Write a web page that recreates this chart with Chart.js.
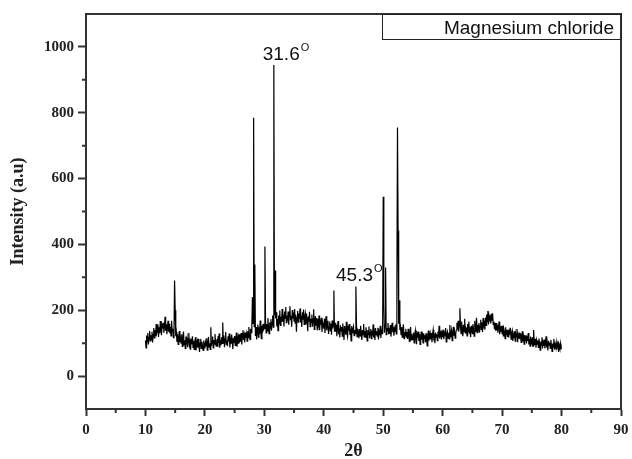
<!DOCTYPE html>
<html><head><meta charset="utf-8">
<script src="https://cdn.jsdelivr.net/npm/chart.js@4.4.1/dist/chart.umd.min.js"></script>
<style>html,body{margin:0;padding:0;background:#fff;}canvas{display:block;}</style>
</head><body>
<canvas id="c" width="632" height="459"></canvas>
<script>
const seriesName = 'Magnesium chloride';
const angleStart = 10;
const angleStep = 0.1;
const intensity = [
108,86,123,104,131,96,118,137,107,124,
111,135,102,126,146,116,140,122,158,130,
137,157,119,148,130,167,140,124,154,145,
162,132,151,180,138,157,127,148,168,135,
159,130,149,122,168,135,144,117,125,290,
200,121,133,104,126,96,118,137,103,115,
100,127,90,116,135,95,109,84,120,103,
116,88,108,131,94,104,80,113,97,121,
87,108,81,100,118,78,95,105,86,113,
92,73,100,113,84,104,91,78,108,96,
84,103,92,115,79,97,119,89,100,81,
148,92,105,120,86,110,97,128,100,91,
112,91,121,101,129,86,109,94,118,99,
163,100,123,88,113,134,96,108,91,121,
105,129,87,113,100,126,108,82,116,102,
122,93,113,132,89,108,119,98,127,105,
107,131,96,120,139,110,124,102,132,116,
128,106,136,117,149,125,111,144,132,156,
240,160,785,150,339,122,149,111,137,157,
118,148,127,169,137,114,154,132,159,142,
145,394,166,131,158,137,176,148,129,163,
146,173,138,163,184,149,945,185,321,176,
194,151,173,138,184,159,199,154,180,165,
204,165,186,151,196,175,210,162,183,168,
196,156,190,212,170,183,150,201,175,193,
167,204,161,186,135,178,198,164,190,174,
205,163,184,149,194,171,202,157,179,190,
157,190,171,136,181,165,195,150,174,162,
187,150,173,203,142,168,182,155,176,141,
174,148,184,139,166,156,177,134,163,153,
144,174,131,162,182,139,154,168,128,149,
166,138,159,126,169,145,154,260,135,162,
135,156,121,148,167,127,145,117,154,137,
149,121,160,134,110,152,139,126,165,131,
120,147,138,158,125,144,107,152,131,141,
150,123,140,129,272,158,120,144,132,115,
143,122,153,130,110,140,126,158,119,137,
118,148,129,107,140,126,151,115,132,143,
114,138,123,157,117,131,110,146,126,136,
121,147,111,134,124,153,116,139,129,142,
545,221,132,154,330,126,146,137,161,127,
147,128,155,120,141,162,133,150,123,144,
136,157,128,285,755,442,159,230,140,149,
126,149,118,139,157,114,134,123,144,117,
134,113,144,125,105,131,149,110,128,118,
109,132,101,124,138,114,97,127,117,135,
107,127,96,120,135,111,123,101,130,115,
124,103,130,111,92,121,138,108,117,129,
111,131,103,126,140,115,121,100,132,118,
127,108,135,118,153,114,126,138,111,130,
119,141,112,131,123,146,104,128,135,115,
132,113,155,120,129,140,108,126,150,123,
134,115,130,140,162,142,168,135,154,206,
150,129,166,139,121,156,135,174,131,148,
145,122,158,135,166,129,148,118,153,138,
129,158,140,121,168,136,150,177,132,155,
137,161,132,152,171,142,163,134,176,153,
160,141,178,154,187,165,198,157,184,173,
179,160,189,170,191,157,166,144,162,138,
161,139,156,132,150,166,127,145,135,153,
129,153,122,143,135,114,148,127,140,119,
141,117,136,126,147,112,130,138,107,126,
117,136,106,128,120,143,103,124,114,132,
112,129,102,121,136,105,117,97,125,109,
123,99,116,107,131,96,113,91,120,104,
99,118,91,140,103,94,113,86,108,97,
108,87,114,98,79,105,94,118,84,102,
92,111,84,102,121,87,99,78,107,94,
102,84,110,92,75,99,89,113,81,96,
88,102,80,96,107,73,93,85,99,81,
90
];
const xTickValues = [0,10,20,30,40,50,60,70,80,90];
const xMinorTicks = [5,15,25,35,45,55,65,75,85];
const yTickValues = [0,200,400,600,800,1000];
const yMinorTicks = [100,300,500,700,900];
const peakLabels = ['31.6','45.3'];
const peakLabelX = [29.73, 42.06];
const peakLabelY = [960, 289];

const twoTheta = intensity.map((_, i) => +(angleStart + i * angleStep).toFixed(1));
const points = twoTheta.map((x, i) => ({ x: x, y: intensity[i] }));

const serifFamily = "'Liberation Serif','Times New Roman',serif";
const serifBold = { family: serifFamily, size: 15, weight: 'bold' };
const sans = "'Liberation Sans', Arial, sans-serif";

const extras = {
  id: 'extras',
  beforeDraw(chart) {
    const ctx = chart.ctx;
    ctx.save();
    ctx.fillStyle = '#fff';
    ctx.fillRect(0, 0, chart.width, chart.height);
    ctx.restore();
  },
  afterDraw(chart) {
    const { ctx, chartArea: a, scales: { x, y } } = chart;
    ctx.save();
    ctx.strokeStyle = '#333';
    ctx.lineWidth = 2;
    ctx.beginPath();
    ctx.moveTo(a.left, a.top); ctx.lineTo(a.right, a.top); ctx.lineTo(a.right, a.bottom);
    ctx.stroke();
    ctx.beginPath();
    xMinorTicks.forEach(v => { const p = x.getPixelForValue(v); ctx.moveTo(p, a.bottom); ctx.lineTo(p, a.bottom + 4); });
    yMinorTicks.forEach(v => { const p = y.getPixelForValue(v); ctx.moveTo(a.left, p); ctx.lineTo(a.left - 4, p); });
    ctx.stroke();
    // legend box
    ctx.lineWidth = 1;
    ctx.strokeStyle = '#222';
    ctx.strokeRect(a.right - 239 + 0.5, a.top + 0.5, 239, 25);
    ctx.fillStyle = '#111';
    ctx.font = '19px ' + sans;
    ctx.textAlign = 'right';
    ctx.textBaseline = 'alphabetic';
    ctx.fillText(chart.data.datasets[0].label, a.right - 7, a.top + 20);
    // peak labels
    ctx.textAlign = 'left';
    peakLabels.forEach((t, i) => {
      const px = x.getPixelForValue(peakLabelX[i]);
      const py = y.getPixelForValue(peakLabelY[i]);
      ctx.font = '19px ' + sans;
      ctx.fillText(t, px, py);
      const w = ctx.measureText(t).width;
      ctx.font = '11px ' + sans;
      ctx.fillText('O', px + w + 1, py - 9);
    });
    ctx.restore();
  }
};

new Chart(document.getElementById('c'), {
  type: 'line',
  data: {
    datasets: [{
      label: seriesName,
      data: points,
      borderColor: '#000',
      borderWidth: 1.2,
      pointRadius: 0,
      tension: 0,
      fill: false
    }]
  },
  options: {
    responsive: false,
    animation: false,
    devicePixelRatio: 1,
    layout: { padding: { left: 0, right: 11, top: 14, bottom: 0 } },
    plugins: { legend: { display: false }, tooltip: { enabled: false } },
    scales: {
      x: {
        type: 'linear', min: 0, max: 90,
        afterBuildTicks: s => { s.ticks = xTickValues.map(v => ({ value: v })); },
        afterFit: s => { s.height = 50; s.paddingLeft = 0; s.paddingRight = 0; },
        grid: { drawOnChartArea: false, drawTicks: true, tickLength: 7, tickColor: '#333', tickWidth: 2 },
        border: { display: true, color: '#333', width: 2 },
        ticks: { font: serifBold, color: '#222', padding: 5, maxRotation: 0, autoSkip: false, callback: v => String(v) },
        title: { display: true, text: '2θ', color: '#222', font: { family: serifFamily, size: 18, weight: 'bold', lineHeight: 0.9 }, padding: { top: 0, bottom: 0 } }
      },
      y: {
        type: 'linear', min: -100, max: 1100,
        afterBuildTicks: s => { s.ticks = yTickValues.map(v => ({ value: v })); },
        afterFit: s => { s.width = 86; s.paddingTop = 0; s.paddingBottom = 0; },
        grid: { drawOnChartArea: false, drawTicks: true, tickLength: 8, tickColor: '#333', tickWidth: 2 },
        border: { display: true, color: '#333', width: 2 },
        ticks: { font: serifBold, color: '#222', padding: 4, autoSkip: false, callback: v => String(v) },
        title: { display: true, text: 'Intensity (a.u)', color: '#222', font: { family: serifFamily, size: 18, weight: 'bold' }, padding: { top: 8, bottom: 0 } }
      }
    }
  },
  plugins: [extras]
});
</script>
</body></html>
